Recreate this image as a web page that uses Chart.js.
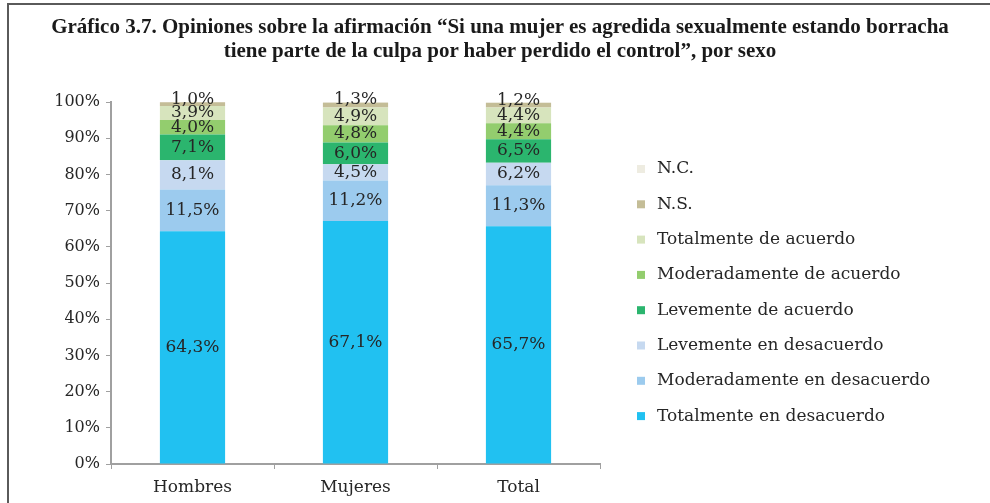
<!DOCTYPE html>
<html>
<head>
<meta charset="utf-8">
<script src="https://cdn.jsdelivr.net/npm/chart.js@4.4.1/dist/chart.umd.min.js"></script>
<style>
  html, body { margin: 0; padding: 0; background: #fff; }
  #wrap { position: relative; width: 990px; height: 503px; overflow: hidden; }
  #frame { position: absolute; left: 7px; top: 3px; width: 1000px; height: 600px;
           border-top: 2px solid #5a5a5a; border-left: 2px solid #5a5a5a; pointer-events: none; }
  #title { position: absolute; left: 10px; top: 14px; width: 980px; text-align: center;
           font-family: "Liberation Serif", serif; font-weight: bold; font-size: 21px;
           line-height: 24px; color: #1a1a1a; }
  canvas { position: absolute; left: 0; top: 0; }
</style>
</head>
<body>
<div id="wrap">
  <canvas id="chart" width="990" height="503"></canvas>
  <div id="frame"></div>
  <div id="title">Gráfico 3.7. Opiniones sobre la afirmación “Si una mujer es agredida sexualmente estando borracha<br>tiene parte de la culpa por haber perdido el control”, por sexo</div>
</div>
<script>
// Datos del gráfico
const categorias = ['Hombres', 'Mujeres', 'Total'];
const series = [
    'Totalmente en desacuerdo',
    'Moderadamente en desacuerdo',
    'Levemente en desacuerdo',
    'Levemente de acuerdo',
    'Moderadamente de acuerdo',
    'Totalmente de acuerdo',
    'N.S.',
    'N.C.'
];
const totalmenteDesacuerdo = [64.3, 67.1, 65.7];
const moderadamenteDesacuerdo = [11.5, 11.2, 11.3];
const levementeDesacuerdo = [8.1, 4.5, 6.2];
const levementeAcuerdo = [7.1, 6.0, 6.5];
const moderadamenteAcuerdo = [4.0, 4.8, 4.4];
const totalmenteAcuerdo = [3.9, 4.9, 4.4];
const noSabe = [1.0, 1.3, 1.2];
const noContesta = [0.1, 0.2, 0.3];
const colores = ['#21c1f1', '#9ccbee', '#c6d9f0', '#2bb56e', '#93cd6e', '#d7e4bd', '#c4bd97', '#eeece1'];
const ticksY = [0, 10, 20, 30, 40, 50, 60, 70, 80, 90, 100];

const valores = [totalmenteDesacuerdo, moderadamenteDesacuerdo, levementeDesacuerdo,
    levementeAcuerdo, moderadamenteAcuerdo, totalmenteAcuerdo, noSabe, noContesta];

const fuente = '"DejaVu Serif", serif';
const colorTexto = '#262626';
const colorEje = '#a0a0a0';

// Etiquetas de valor dentro de cada segmento
const etiquetasPlugin = {
    id: 'etiquetas',
    afterDatasetsDraw(chart) {
        const ctx = chart.ctx;
        ctx.save();
        ctx.font = '17px ' + fuente;
        ctx.fillStyle = colorTexto;
        ctx.textAlign = 'center';
        ctx.textBaseline = 'middle';
        chart.data.datasets.forEach((ds, i) => {
            if (ds.label === 'N.C.') return;
            const meta = chart.getDatasetMeta(i);
            meta.data.forEach((bar, j) => {
                const v = ds.data[j];
                const y = ds.label === 'N.S.' ? bar.y - 3 : (bar.y + bar.base) / 2;
                ctx.fillText(v.toFixed(1).replace('.', ',') + '%', bar.x, y);
            });
        });
        ctx.restore();
    }
};

// Leyenda a la derecha (orden invertido)
const leyendaPlugin = {
    id: 'leyenda',
    afterDraw(chart) {
        const ctx = chart.ctx;
        ctx.save();
        ctx.font = '17px ' + fuente;
        ctx.textBaseline = 'middle';
        ctx.textAlign = 'left';
        const dss = chart.data.datasets.slice().reverse();
        dss.forEach((ds, k) => {
            const y = 169 + k * 35.3;
            ctx.fillStyle = ds.backgroundColor;
            ctx.fillRect(637, y - 4, 8, 8);
            ctx.fillStyle = colorTexto;
            ctx.fillText(ds.label, 657, y);
        });
        ctx.restore();
    }
};

new Chart(document.getElementById('chart'), {
    type: 'bar',
    data: {
        labels: categorias,
        datasets: series.map((s, i) => ({
            label: s,
            data: valores[i],
            backgroundColor: colores[i],
            borderWidth: 0,
            barPercentage: 0.4,
            categoryPercentage: 1
        }))
    },
    plugins: [etiquetasPlugin, leyendaPlugin],
    options: {
        responsive: false,
        animation: false,
        layout: { padding: { top: 102, right: 390, left: 0, bottom: 0 } },
        plugins: {
            legend: { display: false },
            title: { display: false },
            tooltip: { enabled: false }
        },
        scales: {
            x: {
                stacked: true,
                afterFit: (s) => { s.height = 39; },
                grid: { drawOnChartArea: false, drawTicks: true, tickLength: 5, color: colorEje },
                border: { color: colorEje, width: 2 },
                ticks: { color: colorTexto, font: { family: fuente, size: 17 }, padding: 8 }
            },
            y: {
                stacked: true,
                min: 0,
                max: 100,
                afterFit: (s) => { s.width = 111; },
                afterBuildTicks: (s) => { s.ticks = ticksY.map(v => ({ value: v })); },
                grid: { drawOnChartArea: false, drawTicks: true, tickLength: 5, color: colorEje },
                border: { color: colorEje, width: 2 },
                ticks: {
                    color: colorTexto,
                    font: { family: fuente, size: 16 },
                    padding: 6,
                    callback: (v) => v + '%'
                }
            }
        }
    }
});
</script>
</body>
</html>
